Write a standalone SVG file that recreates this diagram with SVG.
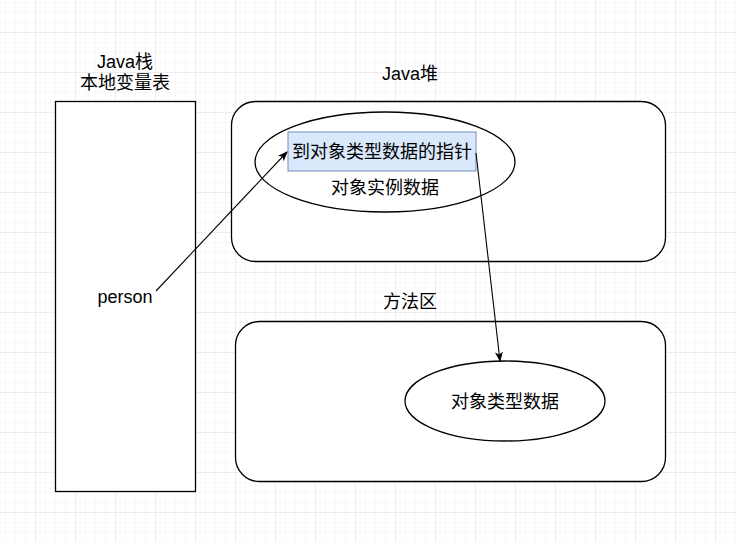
<svg xmlns="http://www.w3.org/2000/svg" width="736" height="542" viewBox="0 0 736 542">
<style>
text{font-family:"Liberation Sans","Noto Sans CJK SC",sans-serif;font-size:18px;fill:#000;text-anchor:middle;dominant-baseline:central}
.box{fill:#fff;stroke:#000;stroke-width:1.3}
.edge{fill:none;stroke:#000;stroke-width:1.1}
</style>
<defs>
<pattern id="minor" patternUnits="userSpaceOnUse" x="5" y="2" width="10" height="10">
<path d="M0 0V10M0 0H10" fill="none" stroke="#f1f1f1" stroke-width="1"/>
</pattern>
<pattern id="major" patternUnits="userSpaceOnUse" x="35" y="32" width="40" height="40">
<path d="M0 0V40M0 0H40" fill="none" stroke="#e2e2e2" stroke-width="1"/>
</pattern>
<marker id="arr" viewBox="0 0 10 10" refX="9" refY="5" markerWidth="10" markerHeight="10" markerUnits="userSpaceOnUse" orient="auto">
<path d="M0 1L10 5L0 9L2.5 5Z" fill="#000"/>
</marker>
</defs>
<rect width="736" height="542" fill="#fff"/>
<rect width="736" height="542" fill="url(#minor)"/>
<rect width="736" height="542" fill="url(#major)"/>

<g id="stack">
<rect class="box" x="55.5" y="101.5" width="140" height="390"/>
<text x="125" y="62">Java栈</text>
<text x="125" y="83">本地变量表</text>
<text x="125" y="297">person</text>
</g>

<g id="heap">
<rect class="box" x="231.5" y="101.5" width="434" height="160" rx="24" ry="24"/>
<text x="410" y="74">Java堆</text>
</g>

<g id="instance">
<ellipse class="box" cx="385" cy="162" rx="130" ry="50"/>
<text x="385" y="188">对象实例数据</text>
</g>

<g id="pointer">
<rect x="288" y="132" width="188" height="39" fill="#dae8fc" stroke="#6c8ebf" stroke-width="1"/>
<text x="382" y="152">到对象类型数据的指针</text>
</g>

<g id="method">
<rect class="box" x="235.5" y="321.5" width="430" height="160" rx="24" ry="24"/>
<text x="410" y="302">方法区</text>
</g>

<g id="typedata">
<ellipse class="box" cx="505" cy="401" rx="100" ry="40"/>
<text x="505" y="402">对象类型数据</text>
</g>

<g id="connectors">
<path class="edge" d="M156 291L287 152" marker-end="url(#arr)"/>
<path class="edge" d="M476 153L500 361" marker-end="url(#arr)"/>
</g>
</svg>
